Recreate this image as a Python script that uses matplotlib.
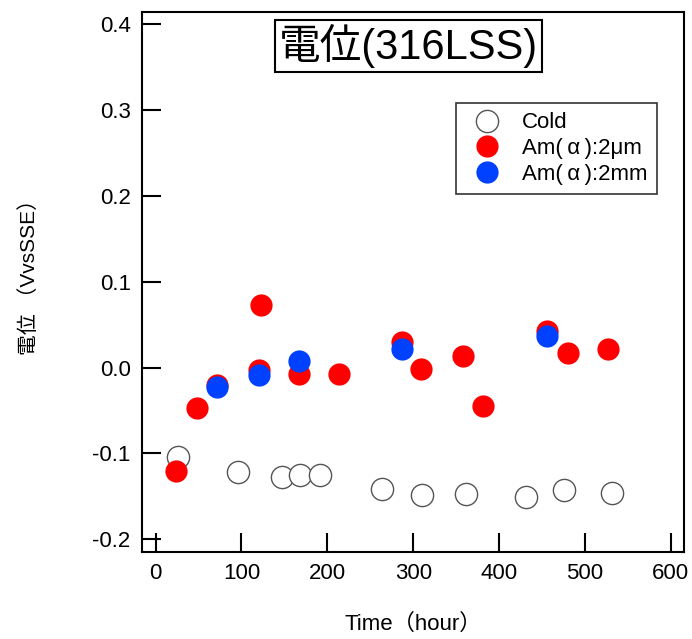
import matplotlib
matplotlib.use("Agg")
from matplotlib import pyplot as plt

plt.rcParams['font.family'] = ['Liberation Sans', 'Noto Sans CJK JP']

# cold reference specimen
coldHours = [26, 96, 147, 168, 192, 264, 310, 361, 431, 476, 532]
coldPot = [-0.104, -0.122, -0.128, -0.125, -0.125, -0.141, -0.149, -0.147, -0.151, -0.143, -0.146]

# Am(alpha) 2um source
um2Hours = [24, 48, 72, 120, 123, 167, 214, 287, 309, 358, 381, 456, 480, 527]
um2Pot = [-0.121, -0.047, -0.020, -0.003, 0.073, -0.007, -0.007, 0.030, -0.002, 0.013, -0.045, 0.042, 0.017, 0.022]

# Am(alpha) 2mm source
mm2Hours = [72, 120, 167, 287, 456]
mm2Pot = [-0.023, -0.009, 0.008, 0.022, 0.037]

xTicks = [0, 100, 200, 300, 400, 500, 600]
yTicks = [-0.2, -0.1, 0.0, 0.1, 0.2, 0.3, 0.4]

fig = plt.figure(figsize=(6.92, 6.39), dpi=100)
ax = fig.add_axes([0.205, 0.136, 0.783, 0.845])

ms = 16
ax.plot(coldHours, coldPot, 'o', ms=ms, mfc='white', mec='#555555', mew=1.0,
        label='Cold', zorder=2)
ax.plot(um2Hours, um2Pot, 'o', ms=ms, color='#ff0000', mec='none',
        label='Am(\u2009\u03b1\u2009):2\u03bcm', zorder=3)
ax.plot(mm2Hours, mm2Pot, 'o', ms=ms, color='#0040ff', mec='none',
        label='Am(\u2009\u03b1\u2009):2mm', zorder=4)

ax.set_xlim(-16, 615)
ax.set_ylim(-0.215, 0.414)
ax.set_xticks(xTicks)
ax.set_yticks(yTicks)
ax.set_yticklabels(['%.1f' % v for v in yTicks])
ax.tick_params(direction='in', length=14, width=1.5, labelsize=16, pad=8,
               top=False, right=False)
for sp in ax.spines.values():
    sp.set_linewidth(1.5)

ax.set_xlabel('Time\uff08hour\uff09', fontsize=16, labelpad=21)
ax.set_ylabel('電位 \uff08VvsSSE\uff09', fontsize=15)
ax.yaxis.set_label_coords(-0.19, 0.518)

ax.text(0.492, 0.937, '電位(316LSS)', transform=ax.transAxes, fontsize=30,
        ha='center', va='center',
        bbox=dict(boxstyle='square,pad=0.1', fc='white', ec='black', lw=1.5))

leg = ax.legend(loc='upper right', bbox_to_anchor=(0.950, 0.831), fontsize=16,
                frameon=True, fancybox=False, edgecolor='black',
                handletextpad=0.6, borderpad=0.4, labelspacing=0.22,
                markerscale=1.0, handlelength=2.0, borderaxespad=0)
leg.get_frame().set_linewidth(1.2)

fig.savefig('out.png', dpi=100)
